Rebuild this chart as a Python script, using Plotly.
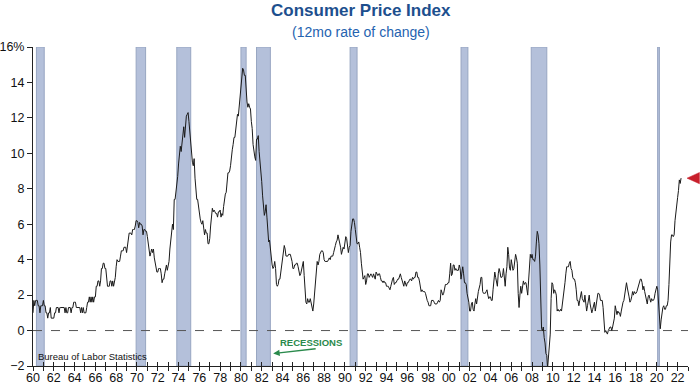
import plotly.graph_objects as go

years = list(range(1960, 2023))
cpi_yoy = {
    1960: [1.0, 1.7, 1.4, 1.7, 1.7, 1.7, 1.4, 1.4, 1.0, 1.4, 1.4, 1.4],
    1961: [1.7, 1.4, 1.4, 1.0, 1.0, 0.7, 1.0, 1.0, 1.3, 0.7, 0.7, 0.7],
    1962: [0.7, 1.0, 1.0, 1.3, 1.3, 1.3, 1.0, 1.3, 1.3, 1.3, 1.3, 1.3],
    1963: [1.3, 1.0, 1.3, 1.0, 1.0, 1.3, 1.3, 1.3, 1.0, 1.3, 1.3, 1.6],
    1964: [1.6, 1.6, 1.3, 1.3, 1.3, 1.3, 1.3, 1.0, 1.3, 1.0, 1.3, 1.0],
    1965: [1.0, 1.0, 1.3, 1.6, 1.6, 1.9, 1.6, 1.9, 1.6, 1.9, 1.6, 1.9],
    1966: [1.9, 2.5, 2.5, 2.8, 2.8, 2.5, 2.8, 3.5, 3.5, 3.8, 3.8, 3.5],
    1967: [3.5, 2.8, 2.5, 2.5, 2.5, 2.8, 2.8, 2.5, 2.8, 2.5, 2.8, 3.0],
    1968: [3.6, 4.0, 3.9, 3.9, 3.9, 4.2, 4.5, 4.5, 4.5, 4.7, 4.7, 4.7],
    1969: [4.4, 4.7, 5.2, 5.5, 5.5, 5.5, 5.4, 5.7, 5.7, 5.7, 5.9, 6.2],
    1970: [6.2, 6.1, 5.8, 6.1, 6.0, 6.0, 5.9, 5.4, 5.7, 5.7, 5.6, 5.6],
    1971: [5.3, 5.0, 4.7, 4.2, 4.4, 4.6, 4.4, 4.6, 4.1, 3.8, 3.5, 3.3],
    1972: [3.3, 3.5, 3.5, 3.5, 3.2, 2.7, 2.9, 2.9, 3.2, 3.4, 3.7, 3.4],
    1973: [3.6, 3.9, 4.6, 5.1, 5.5, 6.0, 5.7, 7.4, 7.4, 7.8, 8.3, 8.7],
    1974: [9.4, 10.0, 10.4, 10.1, 10.7, 10.9, 11.5, 10.9, 11.9, 12.1, 12.2, 12.3],
    1975: [11.8, 11.2, 10.3, 10.2, 9.5, 9.3, 9.7, 8.6, 7.9, 7.4, 7.4, 6.9],
    1976: [6.7, 6.3, 6.1, 6.0, 6.2, 5.9, 5.4, 5.7, 5.5, 5.5, 4.9, 4.9],
    1977: [5.2, 5.9, 6.4, 6.9, 6.7, 6.8, 6.7, 6.6, 6.6, 6.4, 6.7, 6.7],
    1978: [6.8, 6.4, 6.6, 6.5, 7.0, 7.4, 7.7, 7.8, 8.3, 8.9, 8.9, 9.0],
    1979: [9.3, 9.9, 10.2, 10.5, 10.9, 10.9, 11.3, 11.8, 12.2, 12.1, 12.6, 13.3],
    1980: [13.9, 14.2, 14.8, 14.7, 14.4, 14.4, 13.1, 12.9, 12.6, 12.8, 12.6, 12.5],
    1981: [11.8, 11.4, 10.5, 10.0, 9.8, 9.6, 10.8, 10.8, 11.0, 10.1, 9.6, 8.9],
    1982: [8.4, 7.6, 6.8, 6.5, 6.7, 7.1, 6.4, 5.9, 5.0, 5.1, 4.6, 3.8],
    1983: [3.7, 3.5, 3.6, 3.9, 3.5, 2.6, 2.5, 2.6, 2.9, 2.9, 3.3, 3.8],
    1984: [4.2, 4.6, 4.8, 4.6, 4.2, 4.2, 4.2, 4.3, 4.3, 4.3, 4.1, 3.9],
    1985: [3.5, 3.5, 3.7, 3.7, 3.8, 3.8, 3.6, 3.3, 3.1, 3.2, 3.5, 3.8],
    1986: [3.9, 3.1, 2.3, 1.6, 1.5, 1.8, 1.6, 1.6, 1.8, 1.5, 1.3, 1.1],
    1987: [1.5, 2.1, 3.0, 3.8, 3.9, 3.7, 3.9, 4.3, 4.4, 4.5, 4.5, 4.4],
    1988: [4.0, 3.9, 3.9, 3.9, 3.9, 4.0, 4.1, 4.0, 4.2, 4.2, 4.2, 4.4],
    1989: [4.7, 4.8, 5.0, 5.1, 5.4, 5.2, 5.0, 4.7, 4.3, 4.5, 4.7, 4.6],
    1990: [5.2, 5.3, 5.2, 4.7, 4.4, 4.7, 4.8, 5.6, 6.2, 6.3, 6.3, 6.1],
    1991: [5.7, 5.3, 4.9, 4.9, 5.0, 4.7, 4.4, 3.8, 3.4, 2.9, 3.0, 3.1],
    1992: [2.6, 2.8, 3.2, 3.2, 3.0, 3.1, 3.2, 3.1, 3.0, 3.2, 3.0, 2.9],
    1993: [3.3, 3.2, 3.1, 3.2, 3.2, 3.0, 2.8, 2.8, 2.7, 2.8, 2.7, 2.7],
    1994: [2.5, 2.5, 2.5, 2.4, 2.3, 2.5, 2.8, 2.9, 3.0, 2.6, 2.7, 2.7],
    1995: [2.8, 2.9, 2.9, 3.1, 3.2, 3.0, 2.8, 2.6, 2.5, 2.8, 2.6, 2.5],
    1996: [2.7, 2.7, 2.8, 2.9, 2.9, 2.8, 3.0, 2.9, 3.0, 3.0, 3.3, 3.3],
    1997: [3.0, 3.0, 2.8, 2.5, 2.2, 2.3, 2.2, 2.2, 2.2, 2.1, 1.8, 1.7],
    1998: [1.6, 1.4, 1.4, 1.4, 1.7, 1.7, 1.7, 1.6, 1.5, 1.5, 1.5, 1.6],
    1999: [1.7, 1.6, 1.7, 2.3, 2.1, 2.0, 2.1, 2.3, 2.6, 2.6, 2.6, 2.7],
    2000: [2.7, 3.2, 3.8, 3.1, 3.2, 3.7, 3.7, 3.4, 3.5, 3.4, 3.4, 3.4],
    2001: [3.7, 3.5, 2.9, 3.3, 3.6, 3.2, 2.7, 2.7, 2.6, 2.1, 1.9, 1.6],
    2002: [1.1, 1.1, 1.5, 1.6, 1.2, 1.1, 1.5, 1.8, 1.5, 2.0, 2.2, 2.4],
    2003: [2.6, 3.0, 3.0, 2.2, 2.1, 2.1, 2.1, 2.2, 2.3, 2.0, 1.8, 1.9],
    2004: [1.9, 1.7, 1.7, 2.3, 3.1, 3.3, 3.0, 2.7, 2.5, 3.2, 3.5, 3.3],
    2005: [3.0, 3.0, 3.1, 3.5, 2.8, 2.5, 3.2, 3.6, 4.7, 4.3, 3.5, 3.4],
    2006: [4.0, 3.6, 3.4, 3.5, 4.2, 4.3, 4.1, 3.8, 2.1, 1.3, 2.0, 2.5],
    2007: [2.1, 2.4, 2.8, 2.6, 2.7, 2.7, 2.4, 2.0, 2.8, 3.5, 4.3, 4.1],
    2008: [4.3, 4.0, 4.0, 3.9, 4.2, 5.0, 5.6, 5.4, 4.9, 3.7, 1.1, 0.1],
    2009: [0.0, 0.2, -0.4, -0.7, -1.3, -1.4, -2.1, -1.5, -1.3, -0.2, 1.8, 2.7],
    2010: [2.6, 2.1, 2.3, 2.2, 2.0, 1.1, 1.2, 1.1, 1.1, 1.2, 1.1, 1.5],
    2011: [1.6, 2.1, 2.7, 3.2, 3.6, 3.6, 3.6, 3.8, 3.9, 3.5, 3.4, 3.0],
    2012: [2.9, 2.9, 2.7, 2.3, 1.7, 1.7, 1.4, 1.7, 2.0, 2.2, 1.8, 1.7],
    2013: [1.6, 2.0, 1.5, 1.1, 1.4, 1.8, 2.0, 1.5, 1.2, 1.0, 1.2, 1.5],
    2014: [1.6, 1.1, 1.5, 2.0, 2.1, 2.1, 2.0, 1.7, 1.7, 1.7, 1.3, 0.8],
    2015: [-0.1, 0.0, -0.1, -0.2, 0.0, 0.1, 0.2, 0.2, 0.0, 0.2, 0.5, 0.7],
    2016: [1.4, 1.0, 0.9, 1.1, 1.0, 1.0, 0.8, 1.1, 1.5, 1.6, 1.7, 2.1],
    2017: [2.5, 2.7, 2.4, 2.2, 1.9, 1.6, 1.7, 1.9, 2.2, 2.0, 2.2, 2.1],
    2018: [2.1, 2.2, 2.4, 2.5, 2.8, 2.9, 2.9, 2.7, 2.3, 2.5, 2.2, 1.9],
    2019: [1.6, 1.5, 1.9, 2.0, 1.8, 1.6, 1.8, 1.7, 1.7, 1.8, 2.1, 2.3],
    2020: [2.5, 2.3, 1.5, 0.3, 0.1, 0.6, 1.0, 1.3, 1.4, 1.2, 1.2, 1.4],
    2021: [1.4, 1.7, 2.6, 4.2, 5.0, 5.4, 5.4, 5.3, 5.4, 6.2, 6.8, 7.0],
    2022: [7.5, 7.9, 8.5, 8.3, 8.6],
}

recession_starts = [1960.33, 1969.92, 1973.83, 1980.0, 1981.5, 1990.5, 2001.17, 2007.92, 2020.08]
recession_ends = [1961.08, 1970.83, 1975.17, 1980.5, 1982.83, 1991.17, 2001.83, 2009.42, 2020.25]

y_tickvals = [-2, 0, 2, 4, 6, 8, 10, 12, 14, 16]
y_ticktext = ["\u22122", "0", "2", "4", "6", "8", "10", "12", "14", "16%"]
x_tickvals = list(range(1960, 2023, 2))
x_ticktext = [f"{v % 100:02d}" for v in x_tickvals]

# build monthly series
xs, ys = [], []
for yr in years:
    for m, v in enumerate(cpi_yoy[yr]):
        xs.append(yr + m / 12.0)
        ys.append(v)

FONT = "Liberation Sans, Arial, Helvetica, sans-serif"

fig = go.Figure()
fig.add_trace(go.Scatter(x=xs, y=ys, mode="lines",
                         line=dict(color="#1a1a1a", width=1), showlegend=False,
                         hoverinfo="skip"))
# dummy trace for overlay axis
fig.add_trace(go.Scatter(x=[1960], y=[0], xaxis="x2", mode="markers",
                         marker=dict(opacity=0), showlegend=False, hoverinfo="skip"))

shapes = []
for s, e in zip(recession_starts, recession_ends):
    shapes.append(dict(type="rect", xref="x", yref="y", x0=s, x1=e, y0=-2, y1=16,
                       fillcolor="#b4c0da", line=dict(color="#98a6c2", width=1),
                       layer="below"))
shapes.append(dict(type="line", xref="x", yref="y", x0=1960, x1=2023, y0=0, y1=0,
                   line=dict(color="#555555", width=1, dash="dash"), layer="below"))
# red pointer at the latest value, just right of the plot area
last = ys[-1]
shapes.append(dict(type="path", xref="paper", yref="y",
                   path=f"M 0.9985,{last} L 1.0175,{last + 0.32} L 1.0175,{last - 0.32} Z",
                   fillcolor="#c8202c", line=dict(color="#c8202c", width=0.5),
                   layer="above"))

fig.update_layout(
    width=700, height=385,
    margin=dict(l=33, r=12, t=47, b=19, autoexpand=False),
    paper_bgcolor="white", plot_bgcolor="white",
    font=dict(family=FONT, size=12, color="#111111"),
    shapes=shapes,
    xaxis=dict(range=[1960, 2023], tickvals=x_tickvals, ticktext=x_ticktext,
               automargin=False, ticklabelstandoff=-4,
               showgrid=False, zeroline=False, showline=True, linecolor="#222222",
               linewidth=1, ticks="outside", ticklen=4, tickcolor="#222222",
               tickfont=dict(size=12.5),
               minor=dict(dtick=1, tick0=1960, ticks="outside", ticklen=4,
                          tickcolor="#222222")),
    xaxis2=dict(range=[1960, 2023], overlaying="x", anchor="y", side="bottom",
                automargin=False,
                tickvals=x_tickvals, showticklabels=False, showgrid=False,
                zeroline=False, showline=False, ticks="inside", ticklen=4,
                tickcolor="#222222",
                minor=dict(dtick=1, tick0=1960, ticks="inside", ticklen=4,
                           tickcolor="#222222")),
    yaxis=dict(range=[-2, 16], tickvals=y_tickvals, ticktext=y_ticktext,
               automargin=False,
               showgrid=False, zeroline=False, showline=True, linecolor="#222222",
               linewidth=1, ticks="outside", ticklen=5, tickcolor="#222222",
               tickfont=dict(size=12.5)),
    annotations=[
        dict(text="<b>Consumer Price Index</b>", xref="paper", yref="paper",
             x=0.5, y=1, yshift=37, xanchor="center", yanchor="middle", showarrow=False,
             font=dict(size=17, color="#1d4f8e", family=FONT)),
        dict(text="(12mo rate of change)", xref="paper", yref="paper",
             x=0.5, y=1, yshift=15, xanchor="center", yanchor="middle", showarrow=False,
             font=dict(size=14, color="#2563b0", family=FONT)),
        dict(text="Bureau of Labor Statistics", xref="paper", yref="paper",
             x=0, y=0, xshift=3, yshift=2, xanchor="left", yanchor="bottom",
             showarrow=False, font=dict(size=9.5, color="#111111", family=FONT)),
        dict(text="<b>RECESSIONS</b>", xref="x", yref="y", x=1986.7, y=-0.65,
             xanchor="center", yanchor="middle", showarrow=False,
             font=dict(size=9.5, color="#2a8a4c", family=FONT)),
        dict(text="", xref="x", yref="y", x=1983.1, y=-1.3, ax=44, ay=-5,
             showarrow=True, arrowhead=2, arrowsize=1, arrowwidth=1.3,
             arrowcolor="#2a8a4c"),
    ],
)

fig.write_html("out.html", config={"displayModeBar": False},
               post_script="document.body.style.margin='0';")
